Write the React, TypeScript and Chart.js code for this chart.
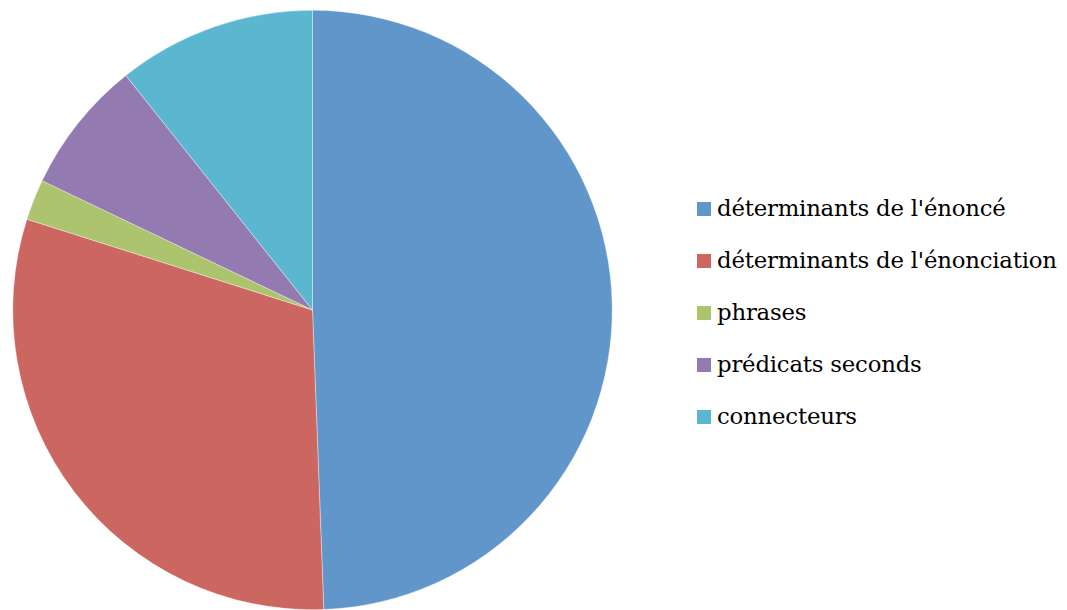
import React, { useEffect, useRef } from "react";
import { Chart, registerables } from "chart.js";

Chart.register(...registerables);

const categories = [
  "déterminants de l'énoncé",
  "déterminants de l'énonciation",
  "phrases",
  "prédicats seconds",
  "connecteurs",
];
const shares = [49.4, 30.5, 2.2, 7.2, 10.7];
const colors = ["#6096C9", "#CC6660", "#ABC46D", "#937AB0", "#5BB7D0"];

export default function App() {
  const ref = useRef<HTMLCanvasElement | null>(null);

  useEffect(() => {
    document.body.style.margin = "0";
    document.body.style.overflow = "hidden";
    const chart = new Chart(ref.current!, {
      type: "pie",
      data: {
        labels: categories,
        datasets: [
          {
            data: shares,
            backgroundColor: colors,
            borderColor: "rgba(255,255,255,0.6)",
            borderWidth: 0.6,
          },
        ],
      },
      options: {
        responsive: false,
        animation: false,
        layout: { padding: 10 },
        plugins: {
          legend: { display: false },
          tooltip: { enabled: false },
        },
      },
    });
    return () => chart.destroy();
  }, []);

  return (
    <div style={{ position: "relative", width: 1067, height: 610, background: "#fff" }}>
      <canvas
        ref={ref}
        width={625}
        height={620}
        style={{ position: "absolute", left: 0, top: 0 }}
      />
      <div style={{ position: "absolute", left: 697, top: 190 }}>
        {categories.map((c, i) => (
          <div
            key={c}
            style={{
              display: "flex",
              alignItems: "center",
              height: 52,
              marginTop: i === 0 ? -8 : 0,
            }}
          >
            <span
              style={{
                display: "inline-block",
                width: 14,
                height: 14,
                background: colors[i],
                marginRight: 6,
                marginTop: 2,
              }}
            />
            <span
              style={{
                fontFamily: "'DejaVu Serif', serif",
                fontSize: 22.8,
                color: "#000",
                whiteSpace: "nowrap",
                letterSpacing: -0.2,
              }}
            >
              {c}
            </span>
          </div>
        ))}
      </div>
    </div>
  );
}
